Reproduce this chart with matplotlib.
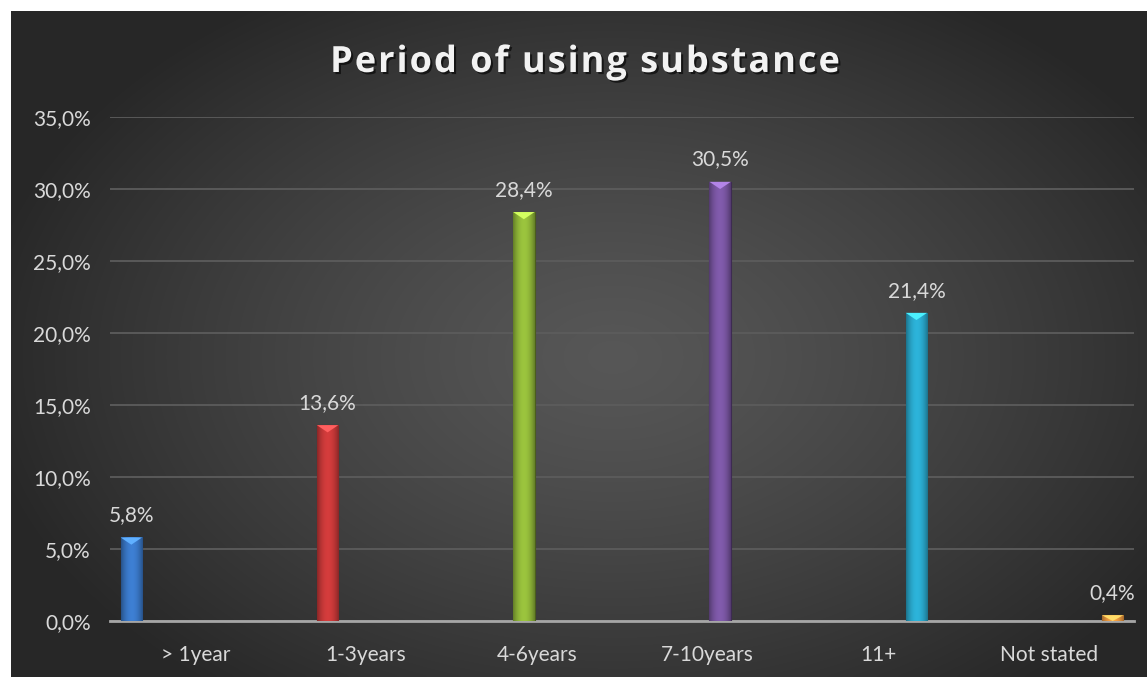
import numpy as np
import matplotlib.pyplot as plt
from matplotlib.patches import Polygon
from matplotlib.font_manager import FontProperties, findfont
from matplotlib.ft2font import FT2Font
import matplotlib.patheffects as pe

# data
categories = ['> 1year', '1-3years', '4-6years', '7-10years', '11+', 'Not stated']
shares = [5.8, 13.6, 28.4, 30.5, 21.4, 0.4]
colors = ['#3a78c8', '#c93939', '#93ba3a', '#7a56a3', '#2aaace', '#ee9a40']
yticks = [0, 5, 10, 15, 20, 25, 30, 35]
title = 'Period of using substance'

W, H = 1147, 677
DPI = 100
fig = plt.figure(figsize=(W / DPI, H / DPI), dpi=DPI)
fig.patch.set_facecolor('white')

# dark radial background of the chart area
bg = fig.add_axes([11 / W, 0, 1 - 11 / W, 1 - 11 / H])
bg.axis('off')
gx, gy = np.meshgrid(np.linspace(0, 1, 400), np.linspace(0, 1, 240))
d = np.sqrt(((gx - 0.53) / 0.75) ** 2 + ((gy - 0.52) / 0.85) ** 2)
d = np.clip(d / 0.75, 0, 1)
lum = 0.34 - (0.34 - 0.155) * d ** 1.3
img = np.dstack([lum, lum, lum])
bg.imshow(img, extent=[0, 1, 0, 1], aspect='auto', interpolation='bicubic')
bg.set_xlim(0, 1)
bg.set_ylim(0, 1)

ax = fig.add_axes([110 / W, (H - 621) / H, 1024 / W, 504 / H])
ax.set_facecolor('none')

n = len(categories)
slot = 0.15
width = 0.125
x = np.arange(n) + (np.arange(n) - (n - 1) / 2) * slot

for i, (xi, v, c) in enumerate(zip(x, shares, colors)):
    rgb = np.array(plt.matplotlib.colors.to_rgb(c))
    bar = ax.bar(xi, v, width=width, color=c, edgecolor=tuple(rgb * 0.5),
                 linewidth=0.8, zorder=3)[0]
    # cylinder-like shading across the bar
    t = np.linspace(-1, 1, 64)
    shade = 1.06 - 0.38 * t ** 2
    strip = np.clip(rgb[None, :] * shade[:, None], 0, 1)[None, :, :]
    im = ax.imshow(strip, extent=[xi - width / 2, xi + width / 2, 0, v],
                   aspect='auto', zorder=3.5, interpolation='bilinear')
    im.set_clip_path(bar)
    # bevel on top
    depth = min(0.5, v)
    top = np.clip(rgb * 1.3 + 0.08, 0, 1)
    ax.add_patch(Polygon([[xi - width / 2, v], [xi + width / 2, v], [xi, v - depth]],
                         closed=True, facecolor=top, edgecolor='none', zorder=4))
    ax.text(xi, v + 0.85, f'{v:.1f}%'.replace('.', ','), ha='center', va='bottom',
            color='#d9d9d9', fontsize=15, family='Lato', zorder=5)

ax.set_xlim(-0.5, n - 0.5)
ax.set_ylim(0, 35)
ax.set_yticks(yticks)
ax.set_yticklabels([f'{t:.1f}%'.replace('.', ',') for t in yticks])
ax.set_xticks(np.arange(n))
ax.set_xticklabels(categories)
ax.grid(axis='y', color='#5c5c5c', linewidth=1.3, zorder=0)
ax.set_axisbelow(True)
ax.tick_params(length=0, colors='#d9d9d9', labelsize=15)
ax.tick_params(axis='y', pad=14)
ax.tick_params(axis='x', pad=17)
for lab in ax.get_xticklabels() + ax.get_yticklabels():
    lab.set_family('Lato')
for s in ['top', 'right', 'left']:
    ax.spines[s].set_visible(False)
ax.spines['bottom'].set_color('#a6a6a6')
ax.spines['bottom'].set_linewidth(2)

# title with letter spacing: place each glyph by its advance width
tsize = 26
fp = FontProperties(family='Open Sans', weight='bold', size=tsize)
font = FT2Font(findfont(fp))
font.set_size(tsize, DPI)
adv = np.array([font.load_char(ord(ch)).linearHoriAdvance / 65536 for ch in title])
spacing = 2.0
pos = np.concatenate([[0], np.cumsum(adv + spacing)])[:-1]
total = pos[-1] + adv[-1]
x0 = 585 - total / 2
shadow = [pe.withSimplePatchShadow(offset=(1.5, -1.5), shadow_rgbFace='black', alpha=0.6)]
for ch, p in zip(title, pos):
    if ch == ' ':
        continue
    fig.text((x0 + p) / W, 1 - 72 / H, ch, ha='left', va='baseline', color='#f2f2f2',
             fontproperties=fp, path_effects=shadow)

fig.savefig('out.png', dpi=DPI)
